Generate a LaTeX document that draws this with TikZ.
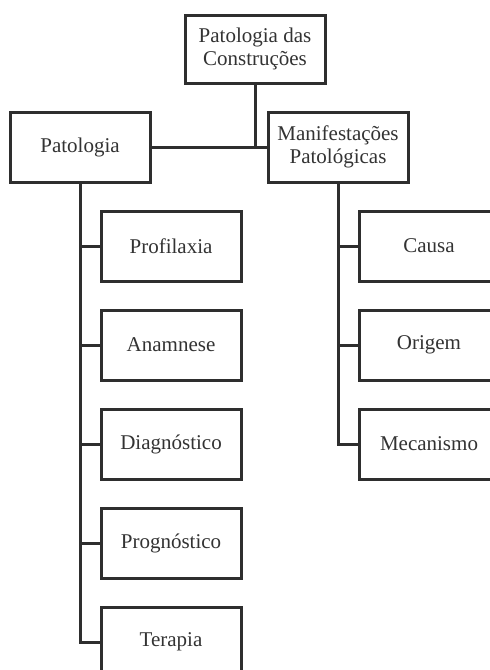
\documentclass[tikz,border=0pt]{standalone}
\usepackage{fontspec}
\setmainfont{Liberation Serif}
\usetikzlibrary{positioning}
\definecolor{linegray}{HTML}{2E2E2E}
\definecolor{textgray}{HTML}{333333}

\begin{document}
\begin{tikzpicture}
[
x=1pt, y=-1pt
, every node/.style={font=\fontsize{21}{23}\selectfont, text=textgray}
, box/.style={draw=linegray, line width=3pt, fill=white, align=center, minimum width=140pt, minimum height=70pt, inner sep=0pt}
, link/.style={draw=linegray, line width=3pt}
]

\useasboundingbox (0,0) rectangle (490,670);
\clip (0,0) rectangle (490,670);

% top level
\node[box, minimum height=68pt] (root) at (255,49) {Patologia das\\Construções};
\node[box] (pat) at (80,147) {Patologia};
\node[box] (man) at (338,147) {Manifestações\\Patológicas};

% left branch
\node[box] (prof) at (171,246) {Profilaxia};
\node[box] (anam) at (171,345) {Anamnese};
\node[box] (diag) at (171,444) {Diagnóstico};
\node[box] (prog) at (171,543) {Prognóstico};
\node[box] (ter) at (171,642) {Terapia};

% right branch
\node[box] (causa) at (429,246) {Causa};
\node[box] (orig) at (429,345) {Origem};
\node[box] (mec) at (429,444) {Mecanismo};

% connectors
\draw[link] (pat.east) -- (man.west);
\draw[link] (root.south) -- (root.south |- pat.east);
\foreach \c in {prof,anam,diag,prog,ter}
  \draw[link] (pat.south) |- (\c.west);
\foreach \c in {causa,orig,mec}
  \draw[link] (man.south) |- (\c.west);

\end{tikzpicture}
\end{document}
